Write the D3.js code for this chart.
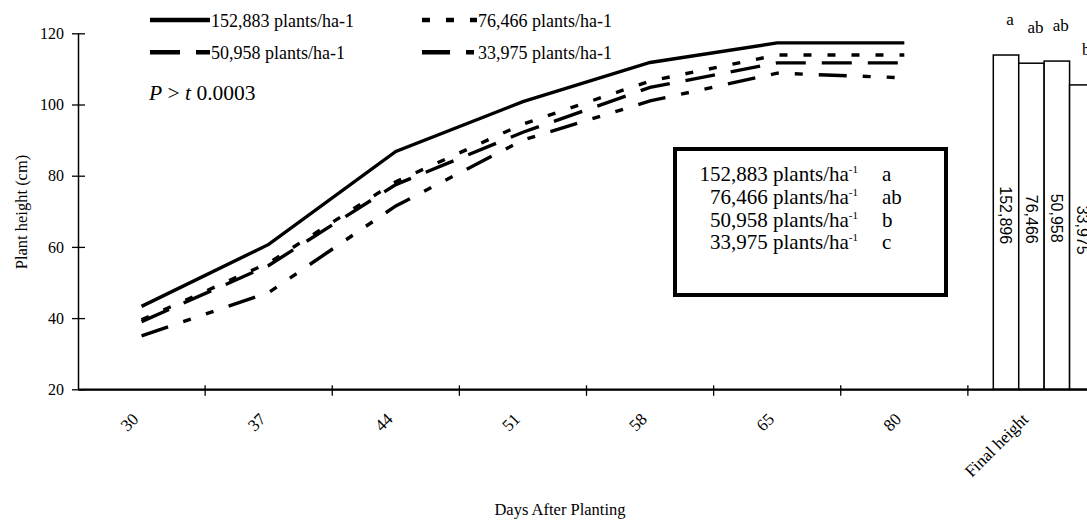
<!DOCTYPE html>
<html><head><meta charset="utf-8">
<script src="https://cdn.jsdelivr.net/npm/d3@7"></script>
<style>body{margin:0;background:#fff} svg{display:block}</style>
</head><body><svg id="chart" width="1087" height="524"></svg>
<script>
// ---- data ----
const categories = ["30","37","44","51","58","65","80","Final height"];
const days = ["30","37","44","51","58","65","80"];
const seriesNames = ["152,883 plants/ha-1","76,466 plants/ha-1","50,958 plants/ha-1","33,975 plants/ha-1"];
const s152883 = [43.3, 60.7, 86.8, 100.8, 111.8, 117.3, 117.3];
const s76466  = [39.5, 55.5, 78.3, 94.5, 106.6, 113.9, 113.9];
const s50958  = [39.0, 54.8, 77.5, 92.2, 104.8, 111.7, 111.7];
const s33975  = [35.0, 47.2, 71.5, 90.0, 101.0, 108.8, 107.5];
const barLabels = ["152,896","76,466","50,958","33,975"];
const finalHeight = [113.9, 111.6, 112.2, 105.5];
const barLetters = ["a","ab","ab","b"];
const boxLabels = ["152,883 plants/ha","76,466 plants/ha","50,958 plants/ha","33,975 plants/ha"];
const boxLetters = ["a","ab","b","c"];
const yTicks = [20,40,60,80,100,120];

const serif = "'Liberation Serif','Times New Roman',serif";
const sans = "'Liberation Sans',Arial,sans-serif";
const dashes = [null, "8,16", "30,16", "28,16,8,16,8,16"];
const seriesData = [s152883, s76466, s50958, s33975];

const svg = d3.select("#chart");
const x = d3.scaleBand().domain(categories).range([78, 1095]);
const bw = x.bandwidth();
const y = d3.scaleLinear().domain([20,120]).range([389.3, 33.3]);

// ---- y axis ----
const gy = svg.append("g").attr("transform","translate(78,0)")
  .call(d3.axisLeft(y).tickValues(yTicks).tickSizeOuter(0).tickSizeInner(6).tickPadding(8));
gy.select(".domain").attr("stroke","#000").attr("stroke-width",1.5);
gy.selectAll(".tick line").attr("x1",7).attr("stroke","#000").attr("stroke-width",1.3);
gy.selectAll(".tick text").attr("font-family",serif).attr("font-size",16).attr("fill","#000").attr("x",-14);

// ---- x axis ----
const gx = svg.append("g").attr("transform","translate(0,389.3)")
  .call(d3.axisBottom(x).tickSize(0).tickSizeOuter(0));
gx.select(".domain").attr("stroke","#000").attr("stroke-width",1.8);
gx.selectAll(".tick text")
  .attr("font-family",serif).attr("font-size",17).attr("fill","#000")
  .attr("x",0).attr("y",0).attr("dy",0)
  .attr("text-anchor","end")
  .attr("transform","translate(-2,31) rotate(-45)");
gx.selectAll(".bt").data(categories.slice(0,7)).enter().append("line")
  .attr("x1",d=>x(d)+bw).attr("x2",d=>x(d)+bw).attr("y1",-4).attr("y2",6.5)
  .attr("stroke","#000").attr("stroke-width",1.3);

// ---- lines ----
const line = d3.line().x((d,i)=>x(days[i])+bw/2).y(d=>y(d));
seriesData.forEach((s,k)=>{
  svg.append("path").datum(s).attr("d",line).attr("fill","none")
    .attr("stroke","#000").attr("stroke-width",3.4)
    .attr("stroke-dasharray",dashes[k]);
});

// ---- bars ----
const xb = d3.scaleBand().domain(barLabels).range([x("Final height")+0.2*bw, x("Final height")+bw]);
const gb = svg.append("g");
barLabels.forEach((b,i)=>{
  const v = finalHeight[i];
  gb.append("rect").attr("x",xb(b)).attr("y",y(v)).attr("width",xb.bandwidth())
    .attr("height",y(20)-y(v)).attr("fill","#fff").attr("stroke","#000").attr("stroke-width",1.5);
  const cx = xb(b)+xb.bandwidth()/2;
  gb.append("text").attr("transform",`translate(${cx},${(y(v)+y(20))/2-7}) rotate(90)`)
    .attr("text-anchor","middle").attr("dy","0.35em")
    .attr("font-family",sans).attr("font-size",16).attr("fill","#000").text(b);
  gb.append("text").attr("x",cx+4).attr("y",y(v)-30).attr("text-anchor","middle")
    .attr("font-family",serif).attr("font-size",17).attr("fill","#000").text(barLetters[i]);
});
// redraw baseline over bars
svg.append("line").attr("x1",78).attr("x2",1095).attr("y1",y(20)).attr("y2",y(20))
  .attr("stroke","#000").attr("stroke-width",1.8);

// ---- top legend ----
const legPos = [[150,210,20],[422,477,20],[150,210,52.3],[422,477,52.3]];
seriesNames.forEach((n,k)=>{
  const p = legPos[k];
  svg.append("line").attr("x1",p[0]).attr("x2",p[1]).attr("y1",p[2]).attr("y2",p[2])
    .attr("stroke","#000").attr("stroke-width",4.5).attr("stroke-dasharray",dashes[k]);
  svg.append("text").attr("x",p[1]+1).attr("y",p[2]+6.5)
    .attr("font-family",serif).attr("font-size",18).attr("fill","#000").text(n);
});

// ---- P > t ----
const pt = svg.append("text").attr("x",149).attr("y",100).attr("font-family",serif)
  .attr("font-size",21.5).attr("fill","#000");
pt.append("tspan").attr("font-style","italic").text("P");
pt.append("tspan").text(" > ");
pt.append("tspan").attr("font-style","italic").text("t");
pt.append("tspan").text(" 0.0003");

// ---- box ----
svg.append("rect").attr("x",675).attr("y",149).attr("width",271).attr("height",146)
  .attr("fill","#fff").attr("stroke","#000").attr("stroke-width",4);
boxLabels.forEach((t,i)=>{
  const yy = 181 + i*22.8;
  const tx = svg.append("text").attr("x",858).attr("y",yy).attr("text-anchor","end")
    .attr("font-family",serif).attr("font-size",21).attr("fill","#000");
  tx.append("tspan").text(t);
  tx.append("tspan").attr("font-size",11).attr("dy",-8).text("-1");
  svg.append("text").attr("x",882).attr("y",yy)
    .attr("font-family",serif).attr("font-size",21).attr("fill","#000").text(boxLetters[i]);
});

// ---- axis titles ----
svg.append("text").attr("transform","translate(27,212) rotate(-90)").attr("text-anchor","middle")
  .attr("font-family",serif).attr("font-size",16.5).attr("fill","#000").text("Plant height (cm)");
svg.append("text").attr("x",560).attr("y",515).attr("text-anchor","middle")
  .attr("font-family",serif).attr("font-size",16.5).attr("fill","#000").text("Days After Planting");
</script></body></html>
